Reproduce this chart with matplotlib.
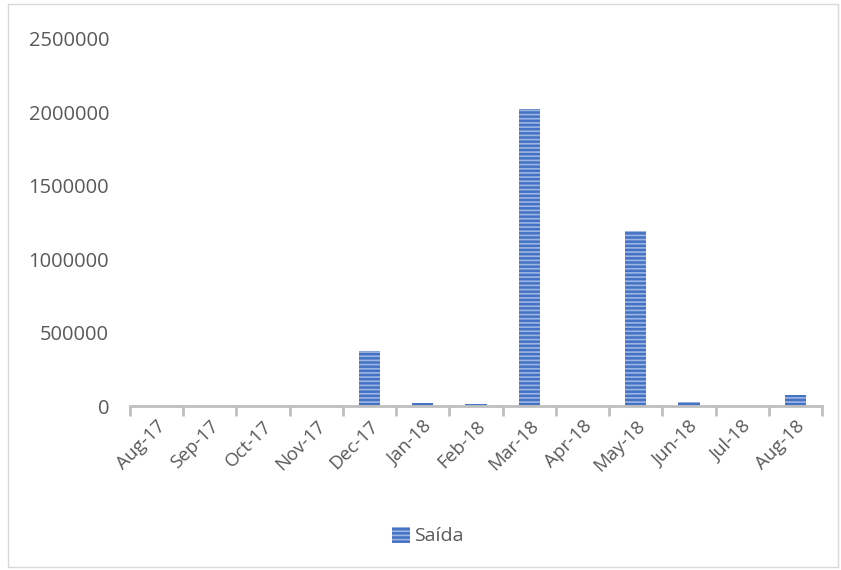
import numpy as np
import matplotlib.pyplot as plt
from matplotlib.patches import Rectangle

months = ['Aug-17', 'Sep-17', 'Oct-17', 'Nov-17', 'Dec-17', 'Jan-18', 'Feb-18',
          'Mar-18', 'Apr-18', 'May-18', 'Jun-18', 'Jul-18', 'Aug-18']
saida = [0, 0, 0, 0, 375000, 20000, 15000, 2020000, 0, 1190000, 25000, 0, 75000]
yticks = [0, 500000, 1000000, 1500000, 2000000, 2500000]

plt.rcParams['font.family'] = ['Open Sans', 'DejaVu Sans']
plt.rcParams['hatch.linewidth'] = 1.2

fig = plt.figure(figsize=(8.41, 5.70), dpi=100)
ax = fig.add_axes([130 / 841, 1 - 406 / 570, (822 - 130) / 841, (406 - 39) / 570])

x = np.arange(len(months))
ax.bar(x, saida, width=0.4, color='#4472C4', edgecolor='#9DB5E3',
       hatch='----', linewidth=0, label='Saída')

ax.set_xlim(-0.5, len(months) - 0.5)
ax.set_ylim(0, 2500000)
ax.set_yticks(yticks)
ax.set_yticklabels([str(v) for v in yticks])
ax.set_xticks(x)
ax.set_xticklabels(months, rotation=45, ha='right', rotation_mode='anchor')
ax.set_xticks(np.arange(-0.5, len(months)), minor=True)

for s in ['top', 'right', 'left']:
    ax.spines[s].set_visible(False)
ax.spines['bottom'].set_color('#BFBFBF')
ax.spines['bottom'].set_linewidth(2)
ax.tick_params(axis='y', length=0, labelsize=14.5, labelcolor='#595959', pad=15)
ax.tick_params(axis='x', which='major', length=0, labelsize=13.5, labelcolor='#595959', pad=8)
ax.tick_params(axis='x', which='minor', length=7, width=2, color='#BFBFBF')

fig.legend(*ax.get_legend_handles_labels(), loc='center',
           bbox_to_anchor=(428 / 841, 1 - 536 / 570), frameon=False,
           fontsize=14, handlelength=0.9, handleheight=0.9, handletextpad=0.25,
           labelcolor='#595959')

fig.patches.append(Rectangle((8 / 841, 3 / 570), 830 / 841, 563 / 570,
                             transform=fig.transFigure, fill=False,
                             edgecolor='#D9D9D9', linewidth=1))

fig.savefig('out.png', dpi=100)
